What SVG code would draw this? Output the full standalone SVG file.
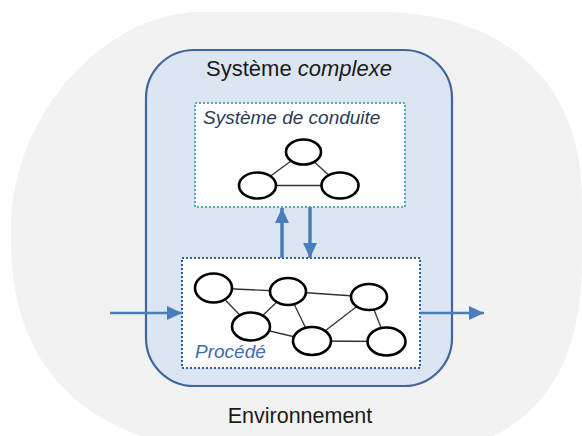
<svg xmlns="http://www.w3.org/2000/svg" width="582" height="436" viewBox="0 0 582 436">
  <defs>
    <style>
      .env { fill: #f2f2f2; stroke: none; }
      .sys { fill: #dce6f2; stroke: #41669a; stroke-width: 2.2; }
      .ctrl { fill: #ffffff; stroke: #4bacc6; stroke-width: 2; stroke-dasharray: 2 2; }
      .proc { fill: #ffffff; stroke: #2f5d96; stroke-width: 2; stroke-dasharray: 2 2; }
      .node { fill: #ffffff; stroke: #000000; stroke-width: 2.6; }
      .edge { stroke: #333333; stroke-width: 1.3; fill: none; }
      .arrow { stroke: #4a7ebb; fill: none; }
      .t { font-family: "Liberation Sans", Arial, sans-serif; }
    </style>
    <marker id="ah" markerUnits="userSpaceOnUse" markerWidth="15" markerHeight="14" refX="15" refY="7" orient="auto">
      <path d="M0,0 L15,7 L0,14 z" fill="#4a7ebb"/>
    </marker>
  </defs>

  <g id="environnement">
    <path class="env" d="M200,12 L380,12 C490,12 582,70 582,200 L582,260 C582,390 520,455 380,462 L250,455 C100,450 11,380 11,240 L11,230 C11,110 110,12 200,12 Z"/>
    <text class="t" x="300" y="423" font-size="21.5" text-anchor="middle" fill="#1a1a1a">Environnement</text>
  </g>

  <g id="systeme-complexe">
    <rect class="sys" x="146" y="50" width="306" height="336" rx="48" ry="48"/>
    <text class="t" x="299" y="76" font-size="22" text-anchor="middle" fill="#1a1a1a">Système <tspan font-style="italic">complexe</tspan></text>
  </g>

  <g id="systeme-de-conduite">
    <rect class="ctrl" x="195" y="103" width="210" height="104"/>
    <text class="t" x="203" y="124" font-size="19" font-style="italic" fill="#2b3a55">Système de conduite</text>
    <g id="conduite-reseau">
      <line class="edge" x1="303.5" y1="152" x2="257.5" y2="185.5"/>
      <line class="edge" x1="303.5" y1="152" x2="340" y2="185.5"/>
      <line class="edge" x1="257.5" y1="185.5" x2="340" y2="185.5"/>
      <ellipse class="node" cx="303.5" cy="152" rx="17.5" ry="12.5"/>
      <ellipse class="node" cx="257.5" cy="185.5" rx="18.5" ry="13"/>
      <ellipse class="node" cx="340" cy="185.5" rx="18.5" ry="13"/>
    </g>
  </g>

  <g id="procede">
    <rect class="proc" x="182" y="258" width="238" height="110"/>
    <text class="t" x="195" y="358" font-size="19" font-style="italic" fill="#3c6eb4">Procédé</text>
    <g id="procede-reseau">
      <line class="edge" x1="213.5" y1="288" x2="288" y2="291.5"/>
      <line class="edge" x1="213.5" y1="288" x2="251" y2="326.5"/>
      <line class="edge" x1="288" y1="291.5" x2="251" y2="326.5"/>
      <line class="edge" x1="288" y1="291.5" x2="369" y2="297"/>
      <line class="edge" x1="288" y1="291.5" x2="312" y2="341"/>
      <line class="edge" x1="251" y1="326.5" x2="312" y2="341"/>
      <line class="edge" x1="369" y1="297" x2="312" y2="341"/>
      <line class="edge" x1="369" y1="297" x2="386.5" y2="341.5"/>
      <line class="edge" x1="312" y1="341" x2="386.5" y2="341.5"/>
      <ellipse class="node" cx="213.5" cy="288" rx="18.5" ry="14.5"/>
      <ellipse class="node" cx="288" cy="291.5" rx="18" ry="13.5"/>
      <ellipse class="node" cx="369" cy="297" rx="18" ry="13"/>
      <ellipse class="node" cx="251" cy="326.5" rx="19" ry="14"/>
      <ellipse class="node" cx="312" cy="341" rx="19" ry="14"/>
      <ellipse class="node" cx="386.5" cy="341.5" rx="19" ry="14"/>
    </g>
  </g>

  <g id="connecteurs">
    <line class="arrow" x1="282" y1="258" x2="282" y2="208" stroke-width="3.5" marker-end="url(#ah)"/>
    <line class="arrow" x1="310" y1="207" x2="310" y2="258" stroke-width="3.5" marker-end="url(#ah)"/>
    <line class="arrow" x1="110" y1="313" x2="182" y2="313" stroke-width="2.6" marker-end="url(#ah)"/>
    <line class="arrow" x1="420" y1="313" x2="484" y2="313" stroke-width="2.6" marker-end="url(#ah)"/>
  </g>
</svg>
